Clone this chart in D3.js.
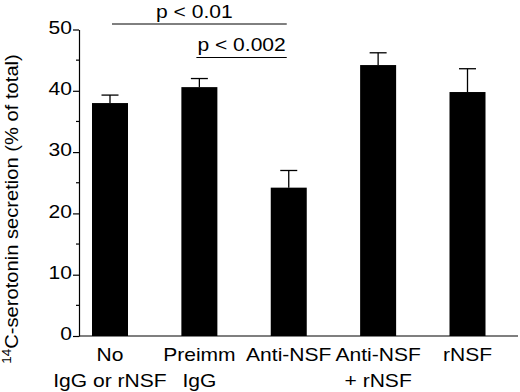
<!DOCTYPE html>
<html lang="en">
<head>
<style>
  body { margin: 0; background: #fff; }
  text { font-family: "Liberation Sans", Arial, sans-serif; fill: #000; }
  .axis path, .axis line { fill: none; stroke: #000; stroke-width: 1.2; }
</style>
<script src="https://d3js.org/d3.v7.min.js" charset="utf-8"></script>
</head>
<body>
<script>
  let groups = ["No|IgG or rNSF", "Preimm|IgG", "Anti-NSF", "Anti-NSF|+ rNSF", "rNSF"];
  let means = [38.0, 40.6, 24.2, 44.2, 39.8];
  let errors = [1.3, 1.4, 2.8, 2.0, 3.8];
  let majorTicks = [0, 10, 20, 30, 40, 50];
  let minorTicks = [5, 15, 25, 35, 45];
  let brackets = [
    {from: 0, to: 2, label: "p < 0.01", level: 0},
    {from: 1, to: 2, label: "p < 0.002", level: 1}
  ];

  let svg = d3.select("body").append("svg")
    .attr("width", 520)
    .attr("height", 392);

  let plotLeft = 79, plotRight = 518, plotTop = 29.5, plotBottom = 336;
  let barW = 36;
  let fs = 18, stretch = 1.17;

  // the original lettering is wide, so stretch text along its direction
  function wide(x, y, rot, s) {
    return "translate(" + x + "," + y + ")" + (rot ? " rotate(" + rot + ")" : "") + " scale(" + (s || stretch) + ",1)";
  }

  let x = d3.scalePoint()
    .domain(groups)
    .range([110, 467.5]);

  let y = d3.scaleLinear()
    .domain([0, 50])
    .range([plotBottom, plotTop]);

  // bars
  svg.selectAll("rect.bar")
    .data(groups)
    .enter().append("rect")
    .attr("class", "bar")
    .attr("x", function(d) { return x(d) - barW / 2; })
    .attr("width", barW)
    .attr("y", function(d, i) { return y(means[i]); })
    .attr("height", function(d, i) { return plotBottom - y(means[i]); })
    .attr("fill", "#000");

  // error bars (upper only)
  let eb = svg.selectAll("g.err")
    .data(groups)
    .enter().append("g")
    .attr("class", "err");
  eb.append("line")
    .attr("x1", function(d) { return x(d); })
    .attr("x2", function(d) { return x(d); })
    .attr("y1", function(d, i) { return y(means[i]); })
    .attr("y2", function(d, i) { return y(means[i] + errors[i]); })
    .attr("stroke", "#000").attr("stroke-width", 1.3);
  eb.append("line")
    .attr("x1", function(d) { return x(d) - 8.5; })
    .attr("x2", function(d) { return x(d) + 8.5; })
    .attr("y1", function(d, i) { return y(means[i] + errors[i]); })
    .attr("y2", function(d, i) { return y(means[i] + errors[i]); })
    .attr("stroke", "#000").attr("stroke-width", 1.3);

  // y axis
  let yAxis = svg.append("g")
    .attr("class", "axis")
    .attr("transform", "translate(" + plotLeft + ",0)")
    .call(d3.axisLeft(y).tickValues(majorTicks).tickSize(6).tickSizeOuter(0));
  yAxis.selectAll(".tick text")
    .style("font-size", fs + "px")
    .attr("x", 0)
    .attr("dy", "0.2em")
    .attr("transform", wide(-7, 0));
  yAxis.selectAll(".minor")
    .data(minorTicks)
    .enter().append("line")
    .attr("class", "minor")
    .attr("x1", -3).attr("x2", 0)
    .attr("y1", function(d) { return y(d); })
    .attr("y2", function(d) { return y(d); })
    .attr("stroke", "#000");

  // x axis baseline
  svg.append("line")
    .attr("x1", plotLeft).attr("x2", plotRight)
    .attr("y1", plotBottom).attr("y2", plotBottom)
    .attr("stroke", "#000").attr("stroke-width", 1.2);

  // category labels
  groups.forEach(function(d) {
    d.split("|").forEach(function(p, j) {
      svg.append("text")
        .attr("class", "cat")
        .attr("text-anchor", "middle")
        .attr("transform", wide(x(d), 361 + j * 25.5))
        .style("font-size", fs + "px")
        .text(p);
    });
  });

  // y title
  let yt = svg.append("text")
    .attr("transform", wide(18, 209, -90, 1.12))
    .attr("text-anchor", "middle")
    .style("font-size", fs + "px");
  yt.append("tspan").attr("baseline-shift", "super").style("font-size", "12px").text("14");
  yt.append("tspan").text("C-serotonin secretion (% of total)");

  // significance brackets
  brackets.forEach(function(b) {
    let x1 = x(groups[b.from]) + (b.level === 0 ? 2 : -3);
    let x2 = x(groups[b.to]) - 2;
    let ly = b.level === 0 ? 24 : 57.5;
    svg.append("line")
      .attr("x1", x1).attr("x2", x2)
      .attr("y1", ly).attr("y2", ly)
      .attr("stroke", "#000").attr("stroke-width", 1);
    svg.append("text")
      .attr("text-anchor", "middle")
      .attr("transform", wide((x1 + x2) / 2 - (b.level === 0 ? 5 : 0), ly - 6.5))
      .style("font-size", fs + "px")
      .text(b.label);
  });
</script>
</body>
</html>
